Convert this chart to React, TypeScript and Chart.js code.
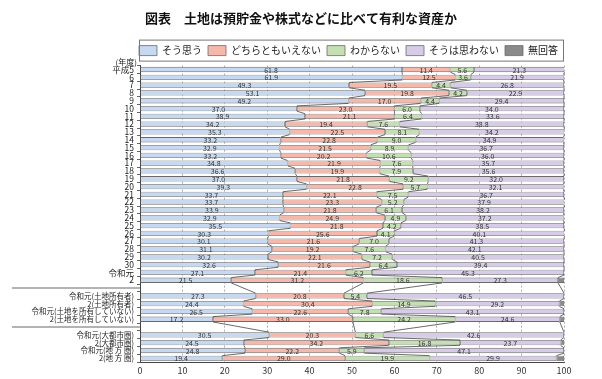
import { useEffect, useRef } from 'react';
import { Chart, registerables } from 'chart.js';

Chart.register(...registerables);

const FONT = '"Noto Sans CJK JP", "Noto Sans", sans-serif';
const TITLE = '図表　土地は預貯金や株式などに比べて有利な資産か';
const YEAR_UNIT = '(年度)';

const categories = [
  '平成5', '6', '7', '8', '9', '10', '11', '12', '13', '14', '15', '16', '17', '18', '19', '20',
  '21', '22', '23', '24', '25', '26', '27', '28', '29', '30', '令和元', '2',
  '',
  '令和元(土地所有者)', '2(土地所有者)', '令和元(土地を所有していない)', '2(土地を所有していない)',
  '',
  '令和元(大都市圏)', '2(大都市圏)', '令和元(地 方 圏)', '2(地 方 圏)',
];

const seriesNames = ['そう思う', 'どちらともいえない', 'わからない', 'そうは思わない', '無回答'];

const souOmou = [
  61.8, 61.9, 49.3, 53.1, 49.2, 37.0, 38.9, 34.2, 35.3, 33.2, 32.9, 33.2, 34.8, 36.6, 37.0, 39.3,
  33.7, 33.7, 33.9, 32.9, 35.5, 30.3, 30.1, 31.1, 30.2, 32.6, 27.1, 21.5,
  null,
  27.3, 24.4, 26.5, 17.2,
  null,
  30.5, 24.5, 24.8, 19.4,
];
const dochiramo = [
  11.4, 12.5, 19.5, 19.8, 17.0, 23.0, 21.1, 19.4, 22.5, 22.8, 21.5, 20.2, 21.9, 19.9, 21.8, 22.8,
  22.1, 23.3, 21.8, 24.9, 21.8, 25.6, 21.6, 19.2, 22.1, 21.6, 21.4, 31.2,
  null,
  20.8, 30.4, 22.6, 33.0,
  null,
  20.3, 34.2, 22.2, 29.0,
];
const wakaranai = [
  5.6, 3.6, 4.4, 4.2, 4.4, 6.0, 6.4, 7.6, 8.1, 9.0, 8.9, 10.6, 7.6, 7.9, 9.2, 5.7,
  7.5, 5.2, 6.1, 4.9, 4.2, 4.1, 7.0, 7.6, 7.2, 6.4, 6.2, 18.6,
  null,
  5.4, 14.9, 7.8, 24.2,
  null,
  6.6, 16.8, 5.9, 19.9,
];
const souwaOmowanai = [
  21.3, 21.9, 26.8, 22.9, 29.4, 34.0, 33.6, 38.8, 34.2, 34.9, 36.7, 36.0, 35.7, 35.6, 32.0, 32.1,
  36.7, 37.9, 38.2, 37.2, 38.5, 40.1, 41.3, 42.1, 40.5, 39.4, 45.3, 27.3,
  null,
  46.5, 29.2, 43.1, 24.6,
  null,
  42.6, 23.7, 47.1, 29.9,
];
const mukaitou = [
  0, 0.1, 0, 0, 0, 0, 0, 0, 0, 0.1, 0, 0, 0, 0, 0, 0.1,
  0, 0, 0, 0.1, 0, 0, 0, 0, 0, 0, 0, 1.4,
  null,
  0, 1.1, 0, 1.0,
  null,
  0, 0.8, 0, 1.8,
];

const seriesValues = [souOmou, dochiramo, wakaranai, souwaOmowanai, mukaitou];
const seriesColors = ['#c6d9f1', '#f5b8aa', '#c4e0b2', '#d6cce7', '#8a8a8a'];
const xTickValues = [0, 10, 20, 30, 40, 50, 60, 70, 80, 90, 100];

const overlayPlugin = {
  id: 'overlay',
  afterLayout(chart: any) {
    const tb = chart.titleBlock;
    if (tb) {
      tb.left = 0;
      tb.right = chart.width;
      tb.width = chart.width;
    }
  },
  afterDatasetsDraw(chart: any) {
    const ctx = chart.ctx;
    const xs = chart.scales.x;
    const area = chart.chartArea;
    const meta0 = chart.getDatasetMeta(0);
    const rows = categories.map((c, i) => (c === '' ? -1 : i)).filter((i) => i >= 0);
    const cum = (r: number, b: number) => {
      let s = 0;
      for (let k = 0; k <= b; k++) s += (seriesValues[k][r] as number) || 0;
      return s;
    };
    ctx.save();
    ctx.beginPath();
    ctx.rect(area.left, area.top - 2, area.right - area.left + 1, area.bottom - area.top + 4);
    ctx.clip();
    ctx.strokeStyle = '#444';
    ctx.lineWidth = 0.8;
    for (let b = 0; b < 4; b++) {
      for (let j = 0; j < rows.length - 1; j++) {
        const r0 = rows[j];
        const r1 = rows[j + 1];
        const e0 = meta0.data[r0];
        const e1 = meta0.data[r1];
        const x0 = xs.getPixelForValue(cum(r0, b));
        const x1 = xs.getPixelForValue(cum(r1, b));
        ctx.beginPath();
        ctx.moveTo(x0, e0.y + e0.height / 2);
        ctx.lineTo(x1, e1.y - e1.height / 2);
        ctx.stroke();
      }
    }
    ctx.restore();

    // segment labels
    ctx.save();
    ctx.font = `7px ${FONT}`;
    ctx.fillStyle = '#333';
    ctx.textAlign = 'center';
    ctx.textBaseline = 'middle';
    for (let k = 0; k < 4; k++) {
      const meta = chart.getDatasetMeta(k);
      rows.forEach((r) => {
        const v = seriesValues[k][r] as number;
        const el = meta.data[r];
        const cx = (xs.getPixelForValue(cum(r, k)) + xs.getPixelForValue(cum(r, k) - v)) / 2;
        ctx.fillText(v.toFixed(1), cx, el.y + 0.5);
      });
    }
    ctx.restore();
  },
  afterDraw(chart: any) {
    const ctx = chart.ctx;
    const area = chart.chartArea;
    const ys = chart.scales.y;
    ctx.save();
    // legend frame
    const hb = chart.legend.legendHitBoxes;
    if (hb && hb.length) {
      const top = Math.min(...hb.map((h: any) => h.top));
      const bottom = Math.max(...hb.map((h: any) => h.top + h.height));
      ctx.strokeStyle = '#777';
      ctx.lineWidth = 1;
      ctx.strokeRect(area.left - 0.5, top - 5.5, area.right - area.left, bottom - top + 11);
    }
    // year unit
    ctx.font = `8px ${FONT}`;
    ctx.fillStyle = '#222';
    ctx.textAlign = 'right';
    ctx.textBaseline = 'middle';
    ctx.fillText(YEAR_UNIT, area.left - 3, area.top - 4);
    // separators
    ctx.strokeStyle = '#9a9a9a';
    ctx.lineWidth = 1.5;
    categories.forEach((c, i) => {
      if (c !== '') return;
      const y = ys.getPixelForValue(i);
      ctx.beginPath();
      ctx.moveTo(12, y);
      ctx.lineTo(area.left, y);
      ctx.stroke();
    });
    ctx.restore();
  },
};

export default function App() {
  const ref = useRef<HTMLCanvasElement>(null);
  useEffect(() => {
    const chart = new Chart(ref.current as HTMLCanvasElement, {
      type: 'bar',
      data: {
        labels: categories,
        datasets: seriesNames.map((name, k) => ({
          label: name,
          data: seriesValues[k] as any,
          backgroundColor: seriesColors[k],
          borderColor: '#6a6a6a',
          borderWidth: 0.8,
          borderSkipped: false,
          barPercentage: 0.68,
          categoryPercentage: 1,
        })),
      },
      options: {
        indexAxis: 'y',
        responsive: false,
        animation: false,
        layout: { padding: { left: 0, right: 38, top: 0, bottom: 0 } },
        scales: {
          x: {
            stacked: true,
            min: 0,
            max: 100,
            afterBuildTicks: (s: any) => {
              s.ticks = xTickValues.map((v) => ({ value: v }));
            },
            ticks: { font: { size: 9, family: FONT }, color: '#333', padding: 3 },
            grid: { color: '#9a9a9a', drawTicks: false, lineWidth: 0.8 },
            border: { display: true, color: '#444', dash: [2, 2] },
          },
          y: {
            stacked: true,
            afterFit: (s: any) => {
              s.width = 140;
            },
            ticks: {
              autoSkip: false,
              font: (c: any) => ({ size: c.index < 28 ? 8.5 : 7.5, family: FONT }),
              color: '#222',
              padding: 3,
            },
            grid: { drawOnChartArea: false, tickLength: 3, color: '#666' },
            border: { color: '#444' },
          },
        },
        plugins: {
          title: {
            display: true,
            text: TITLE,
            font: { size: 13, weight: 'bold', family: FONT },
            color: '#111',
            padding: { top: 10, bottom: 14 },
          },
          legend: {
            position: 'top',
            align: 'end',
            labels: {
              boxWidth: 18,
              boxHeight: 10,
              padding: 6,
              font: { size: 10, family: FONT },
              color: '#222',
            },
          },
          tooltip: { enabled: false },
        },
      },
      plugins: [overlayPlugin],
    });
    return () => chart.destroy();
  }, []);
  return (
    <div style={{ position: 'fixed', left: 0, top: 0, width: 602, height: 379, background: '#fff' }}>
      <canvas ref={ref} width={602} height={379} style={{ width: 602, height: 379, display: 'block' }} />
    </div>
  );
}
